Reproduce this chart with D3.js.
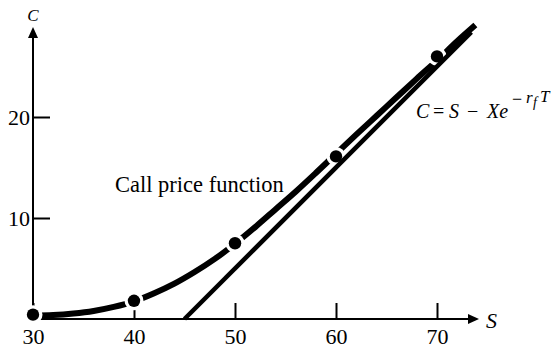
<!DOCTYPE html>
<html>
<head>
<meta charset="utf-8">
<script src="https://cdn.jsdelivr.net/npm/d3@7"></script>
<style>
  html, body { margin: 0; padding: 0; background: #fff; }
  svg { display: block; }
</style>
</head>
<body>
<svg id="chart" width="555" height="348"></svg>
<script>
// ---- data ----
const curveS = [30, 32, 34, 36, 38, 40, 42, 44, 46, 48, 50, 52, 54, 56, 58, 60, 62, 64, 66, 68, 70, 72, 73.8];
const curveC = [0.35, 0.4, 0.55, 0.8, 1.2, 1.75, 2.55, 3.5, 4.65, 5.95, 7.45, 9.1, 10.85, 12.6, 14.45, 16.35, 18.25, 20.1, 21.95, 23.8, 25.6, 27.5, 29.1];
const dotS = [30, 40, 50, 60, 70];
const dotC = [0.43, 1.8, 7.5, 16.1, 26.0];
const lineS = [45, 73.4];
const lineC = [0, 28.4];
const xTicks = [30, 40, 50, 60, 70];
const yTicks = [10, 20];
const curveLabel = "Call price function";

const SERIF = '"Liberation Serif", "Times New Roman", Times, "DejaVu Serif", serif';

const svg = d3.select("#chart");
const x = d3.scaleLinear().domain([30, 70]).range([33, 437]);
const y = d3.scaleLinear().domain([0, 20]).range([319, 117]);

const x0 = x(30), y0 = y(0);

// x axis (ticks upward, labels below)
const gx = svg.append("g").attr("transform", `translate(0,${y0})`)
  .call(d3.axisBottom(x).tickValues(xTicks).tickSize(-16).tickPadding(8).tickFormat(d3.format("d")));
gx.select(".domain").remove();
gx.selectAll(".tick line").attr("stroke", "#000").attr("stroke-width", 2);
gx.selectAll(".tick text").attr("font-size", 22).style("font-family", SERIF).attr("fill", "#000").attr("dy", "0.75em");

// y axis (ticks to the right, labels left)
const gy = svg.append("g").attr("transform", `translate(${x0},0)`)
  .call(d3.axisLeft(y).tickValues(yTicks).tickSize(-17).tickPadding(3).tickFormat(d3.format("d")));
gy.select(".domain").remove();
gy.selectAll(".tick line").attr("stroke", "#000").attr("stroke-width", 2);
gy.selectAll(".tick text").attr("font-size", 22).style("font-family", SERIF).attr("fill", "#000");

// axis lines with arrows
svg.append("line").attr("x1", x0).attr("x2", 470).attr("y1", y0).attr("y2", y0)
  .attr("stroke", "#000").attr("stroke-width", 2);
svg.append("path").attr("d", `M468,${y0-5} L479,${y0} L468,${y0+5} Z`).attr("fill", "#000");
svg.append("line").attr("x1", x0).attr("x2", x0).attr("y1", y0).attr("y2", 36)
  .attr("stroke", "#000").attr("stroke-width", 2);
svg.append("path").attr("d", `M${x0-5},38 L${x0},27 L${x0+5},38 Z`).attr("fill", "#000");

svg.append("text").attr("x", x0).attr("y", 21).attr("text-anchor", "middle").style("font-family", SERIF)
  .attr("font-style", "italic").attr("font-size", 17).text("C");
svg.append("text").attr("x", 486).attr("y", 328).style("font-family", SERIF)
  .attr("font-style", "italic").attr("font-size", 22).text("S");

// call price curve
const curvePts = curveS.map((s, i) => [s, curveC[i]]);
const lineGen = d3.line().x(d => x(d[0])).y(d => y(d[1])).curve(d3.curveCatmullRom);
svg.append("path").attr("d", lineGen(curvePts)).attr("fill", "none")
  .attr("stroke", "#000").attr("stroke-width", 6);

// white halos around dots (gaps in the curve)
const dots = dotS.map((s, i) => [s, dotC[i]]);
svg.selectAll("circle.halo").data(dots).join("circle").attr("class", "halo")
  .attr("cx", d => x(d[0])).attr("cy", d => y(d[1])).attr("r", 9.5).attr("fill", "#fff");

// intrinsic value line C = S - Xe^{-rT}
const linePts = lineS.map((s, i) => [s, lineC[i]]);
svg.append("path").attr("d", d3.line().x(d => x(d[0])).y(d => y(d[1]))(linePts))
  .attr("fill", "none").attr("stroke", "#000").attr("stroke-width", 4.5);

// dots
svg.selectAll("circle.dot").data(dots).join("circle").attr("class", "dot")
  .attr("cx", d => x(d[0])).attr("cy", d => y(d[1])).attr("r", 6.2).attr("fill", "#000");

// labels
svg.append("text").attr("x", 115).attr("y", 192).attr("font-size", 22.5).style("font-family", SERIF).text(curveLabel);

const eq = svg.append("text").attr("font-style", "italic").attr("font-size", 20).style("font-family", SERIF);
eq.append("tspan").attr("x", 416).attr("y", 118).text("C");
eq.append("tspan").attr("x", 433).attr("y", 118).attr("font-style", "normal").text("=");
eq.append("tspan").attr("x", 449).attr("y", 118).text("S");
eq.append("tspan").attr("x", 467).attr("y", 118).attr("font-style", "normal").text("\u2212");
eq.append("tspan").attr("x", 487).attr("y", 118).text("Xe");
eq.append("tspan").attr("x", 512).attr("y", 105).attr("font-size", 18).attr("font-style", "normal").text("\u2212");
eq.append("tspan").attr("x", 526).attr("y", 103).attr("font-size", 17).text("r");
eq.append("tspan").attr("x", 533).attr("y", 107).attr("font-size", 14).text("f");
eq.append("tspan").attr("x", 540).attr("y", 102).attr("font-size", 17).text("T");
</script>
</body>
</html>
